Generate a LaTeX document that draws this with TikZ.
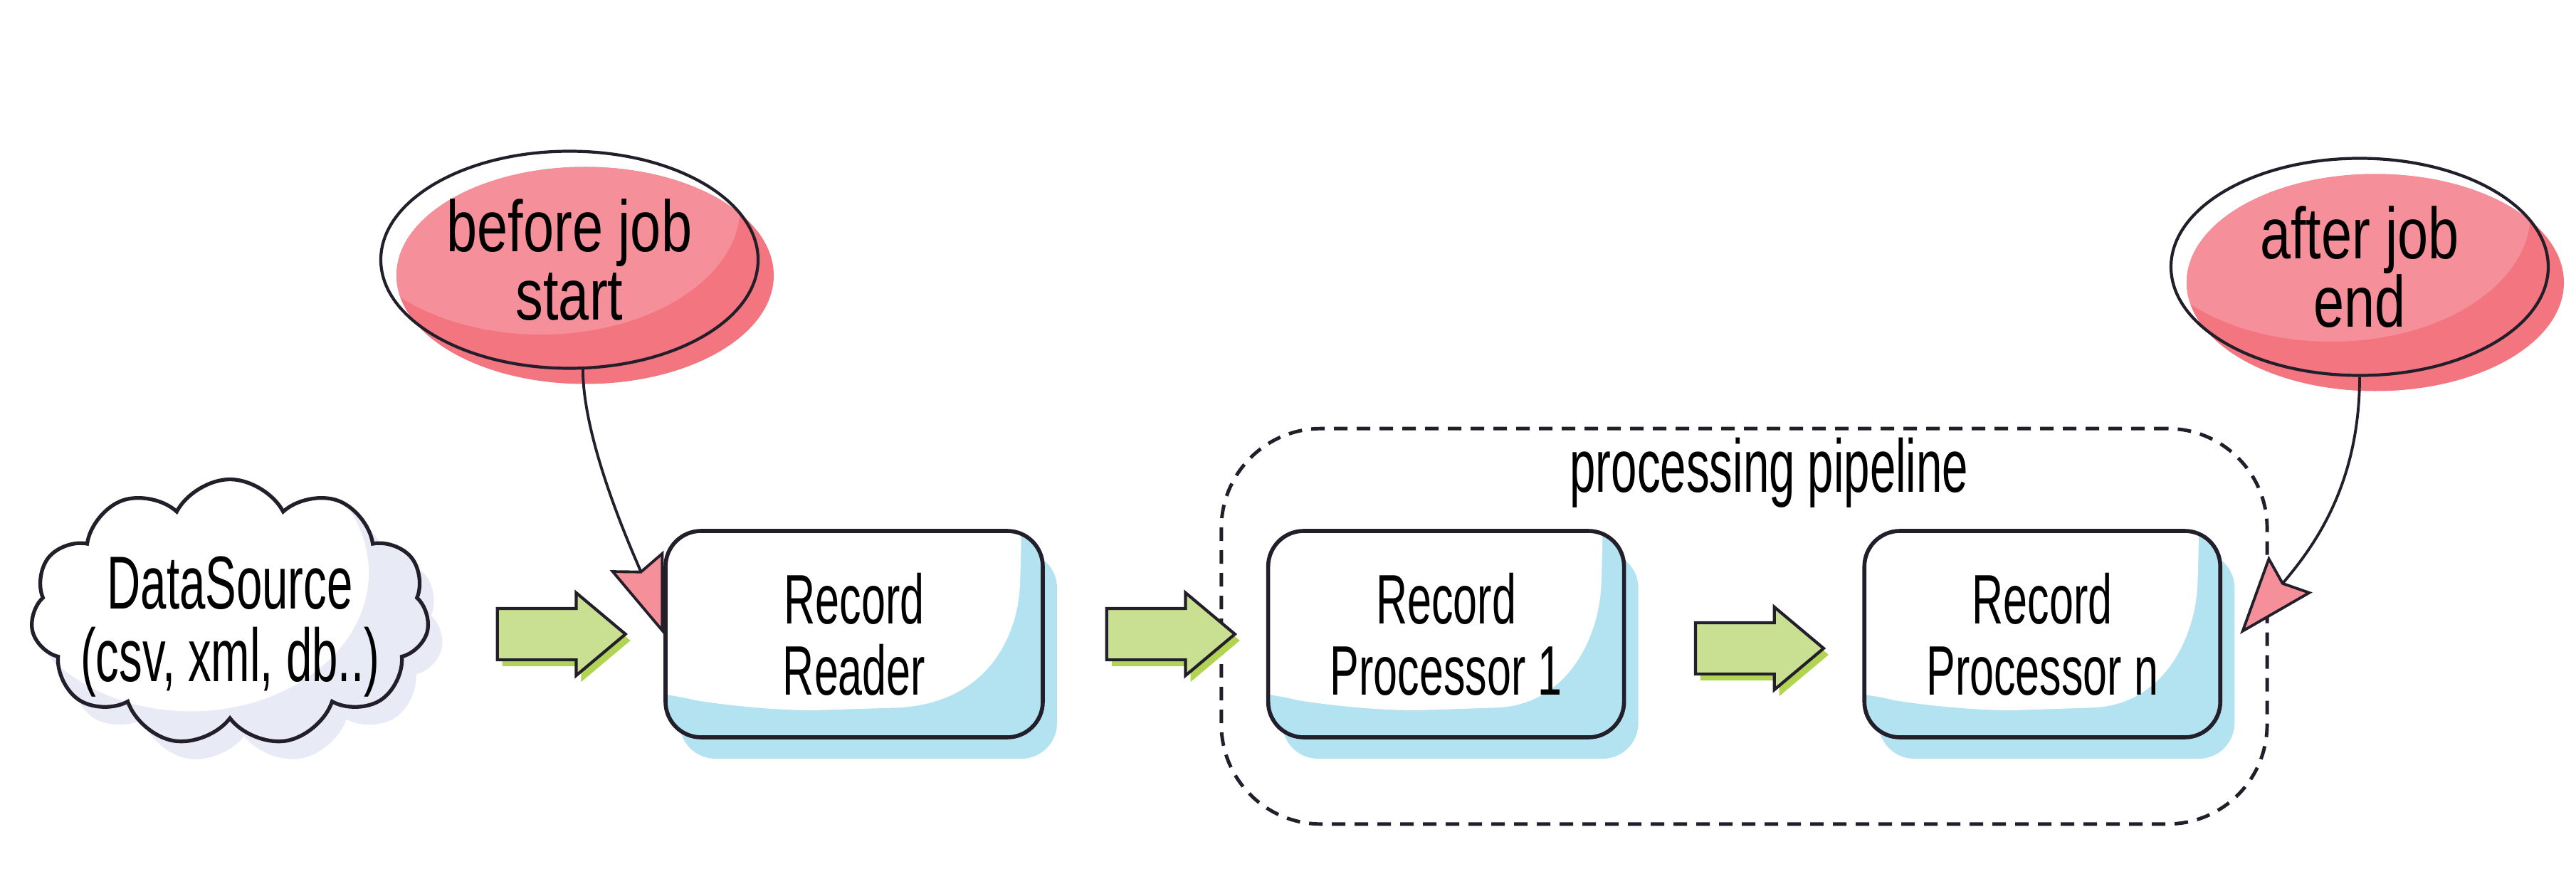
\documentclass[tikz,border=0pt]{standalone}
\usepackage{fontspec}
\newfontfamily\boxfont{Liberation Sans}[FakeStretch=0.62]
\newfontfamily\tagfont{Liberation Sans}[FakeStretch=0.76]
\usetikzlibrary{positioning, arrows.meta, shapes.geometric, shapes.symbols, shapes.arrows, shadows, fit, calc}

\definecolor{ink}{HTML}{231F2A}
\definecolor{boxblue}{HTML}{B3E2F0}
\definecolor{pinklight}{HTML}{F5909B}
\definecolor{pinkdark}{HTML}{F27580}
\definecolor{greenlight}{HTML}{C9DF91}
\definecolor{greendark}{HTML}{B2D453}
\definecolor{cloudgrey}{HTML}{E8EAF5}

\begin{document}
\begin{tikzpicture}[
    record/.style={rectangle, rounded corners=0.5cm, draw=ink, line width=1.6pt, fill=boxblue,
        minimum width=5cm, minimum height=2.9cm, align=center, font=\fontsize{28}{28.5}\boxfont,
        general shadow={fill=boxblue, shadow xshift=0.2cm, shadow yshift=-0.3cm},
        path picture={\fill[white] ([shift={(-1,1)}]path picture bounding box.north west)
            -- ([shift={(-0.3,1)}]path picture bounding box.north east)
            -- ([shift={(-0.3,-0.25)}]path picture bounding box.north east)
            .. controls ([shift={(-0.35,-1.5)}]path picture bounding box.north east)
            and ([shift={(-0.8,0.45)}]path picture bounding box.south east)
            .. ([shift={(2.7,0.4)}]path picture bounding box.south west)
            .. controls ([shift={(1.5,0.36)}]path picture bounding box.south west)
            and ([shift={(0.5,0.5)}]path picture bounding box.south west)
            .. ([shift={(-0.1,0.65)}]path picture bounding box.south west)
            -- ([shift={(-1,0.65)}]path picture bounding box.south west) -- cycle;}},
    jobtag/.style={ellipse, draw=ink, line width=1.2pt, minimum width=5.3cm, minimum height=3.05cm,
        inner sep=0pt, align=center, font=\fontsize{29}{27.5}\tagfont,
        general shadow={fill=pinkdark, shadow xshift=0.22cm, shadow yshift=-0.22cm},
        path picture={\clip ([shift={(0.22,-0.22)}]path picture bounding box.center)
                ellipse [x radius=2.65cm, y radius=1.525cm];
            \fill[pinklight] ([shift={(-0.4,0.75)}]path picture bounding box.center)
                ellipse [x radius=2.8cm, y radius=1.8cm];}},
    datasource/.style={cloud, cloud puffs=11, cloud puff arc=125, cloud ignores aspect,
        draw=ink, line width=1.5pt, fill=cloudgrey, minimum width=5.6cm, minimum height=3.75cm,
        inner sep=0pt,
        general shadow={fill=cloudgrey, shadow xshift=0.2cm, shadow yshift=-0.25cm},
        path picture={\fill[white] ([shift={(-0.55,0.55)}]path picture bounding box.center)
            ellipse [x radius=2.5cm, y radius=1.95cm];}},
    sourcetext/.style={align=center, inner sep=0pt, font=\fontsize{30}{29}\boxfont},
    flow/.style={single arrow, draw=ink, line width=1.2pt, fill=greenlight,
        minimum height=1.8cm, minimum width=1.12cm, inner xsep=0pt, inner ysep=0.34cm,
        single arrow head extend=0.22cm, single arrow tip angle=80,
        general shadow={fill=greendark, shadow xshift=0.07cm, shadow yshift=-0.09cm}},
    pipeline/.style={rectangle, rounded corners=1.4cm, draw=ink, line width=1.4pt,
        dash pattern=on 0.19cm off 0.13cm, inner xsep=0.63cm, inner ysep=1.3cm},
    pipetext/.style={font=\fontsize{30}{30}\boxfont},
    hook/.style={ink, line width=1.1pt, -{Stealth[length=1.1cm, width=0.8cm, inset=0.15cm, fill=pinklight]}}
]
    \useasboundingbox (0,0) rectangle (36.19,12.2);

    \node[record, minimum width=5.3cm] (reader) at (12.0,3.29) {Record\\Reader};
    \node[record] (proc1) [right=3.11cm of reader] {Record\\Processor 1};
    \node[record] (procn) [right=3.32cm of proc1] {Record\\Processor n};
    \node[datasource] (source) [left=3.3cm of reader, yshift=0.3cm] {};
    \node[sourcetext] (sourcelabel) at ([yshift=-0.2cm]source.center) {DataSource\\(csv, xml, db..)};

    \node[jobtag] (before) at (8.0,8.55) {before job\\start};
    \node[jobtag] (after) at (33.15,8.45) {after job\\end};

    \node[pipeline, fit=(proc1) (procn), yshift=0.11cm] (pipe) {};
    \node[pipetext] (pipelabel) at ([shift={(0.35,-0.65)}]pipe.north) {processing pipeline};

    % flow between the stages
    \node[flow] (flow1) at ($(source.east |- reader.west)!0.5!(reader.west)$) {};
    \node[flow] (flow2) at ($(reader.east)!0.5!(proc1.west)$) {};
    \node[flow] (flow3) at ($(proc1.east)!0.5!(procn.west)+(0,-0.2)$) {};

    % job hooks
    \draw[hook] (before.-83) to[out=-90, in=110, looseness=0.7] (reader.west);
    \draw[hook] (after.south) to[out=-90, in=50] ([xshift=0.25cm]procn.east);

\end{tikzpicture}
\end{document}
